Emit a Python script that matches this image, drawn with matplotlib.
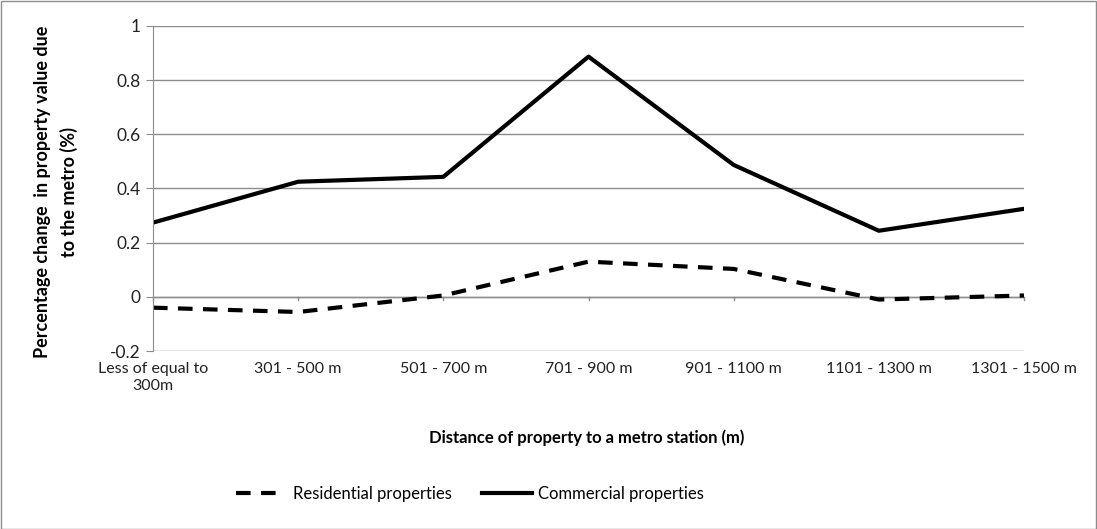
import matplotlib
matplotlib.use("Agg")
import matplotlib.pyplot as plt
from matplotlib.patches import Rectangle
from matplotlib.lines import Line2D

# Distance bands and value changes (%)
categories = ["Less of equal to\n300m", "301 - 500 m", "501 - 700 m", "701 - 900 m",
              "901 - 1100 m", "1101 - 1300 m", "1301 - 1500 m"]
residential = [-0.04, -0.056, 0.005, 0.13, 0.103, -0.01, 0.005]
commercial = [0.274, 0.425, 0.443, 0.887, 0.487, 0.244, 0.325]
yticks = [-0.2, 0, 0.2, 0.4, 0.6, 0.8, 1]
ytick_labels = ["-0.2", "0", "0.2", "0.4", "0.6", "0.8", "1"]

plt.rcParams["font.family"] = ["Lato", "DejaVu Sans"]

fig = plt.figure(figsize=(10.97, 5.29), dpi=100)
ax = fig.add_axes([153 / 1097, 1 - 351 / 529, (1024 - 153) / 1097, (351 - 26) / 529])

x = list(range(len(categories)))
ax.plot(x, residential, color="black", lw=3, linestyle=(0, (3.5, 2.5)),
        label="Residential properties", solid_capstyle="butt")
ax.plot(x, commercial, color="black", lw=3, label="Commercial properties")

ax.set_xlim(0, len(categories) - 1)
ax.set_ylim(-0.2, 1)
ax.set_yticks(yticks)
ax.set_yticklabels(ytick_labels, fontsize=12.5, color="#222222")
ax.yaxis.grid(True, color="#8c8c8c", lw=1)
ax.set_axisbelow(True)

# category axis sits on y=0 with its own tick marks
for s in ["top", "right", "bottom"]:
    ax.spines[s].set_visible(False)
ax.spines["left"].set_color("#8c8c8c")
ax.tick_params(axis="y", length=5, color="#8c8c8c", pad=4)
ax.axhline(0, color="#8c8c8c", lw=1, zorder=1)
for xi in x:
    ax.plot([xi, xi], [0, -0.013], color="#8c8c8c", lw=1, zorder=1, clip_on=False)
ax.set_xticks(x)
ax.set_xticklabels([])
ax.tick_params(axis="x", length=0)
for xi, lab in zip(x, categories):
    ax.annotate(lab, (xi, -0.2), xytext=(0, -8), textcoords="offset points",
                ha="center", va="top", fontsize=11.5, color="#222222",
                linespacing=1.25, annotation_clip=False)

fig.text(56 / 1097, 1 - 192 / 529,
         "Percentage change  in property value due\nto the metro (%)",
         rotation=90, ha="center", va="center", multialignment="center",
         fontsize=13, fontweight="bold", linespacing=1.55)
fig.text(587 / 1097, 1 - 438 / 529, "Distance of property to a metro station (m)",
         ha="center", va="center", fontsize=12, fontweight="bold")

handles = [Line2D([], [], color="black", lw=3, linestyle=(0, (3.5, 2.5))),
           Line2D([], [], color="black", lw=3)]
fig.legend(handles, ["Residential properties", "Commercial properties"],
           loc="center", bbox_to_anchor=(470 / 1097, 1 - 494 / 529), ncol=2,
           frameon=False, fontsize=12, handlelength=3.0, handletextpad=0.4,
           columnspacing=1.8)

fig.add_artist(Rectangle((0.5 / 1097, 0.5 / 529), 1 - 1.5 / 1097, 1 - 1.5 / 529,
                         transform=fig.transFigure, fill=False,
                         edgecolor="#8c8c8c", lw=1))

fig.savefig("out.png", dpi=100)
